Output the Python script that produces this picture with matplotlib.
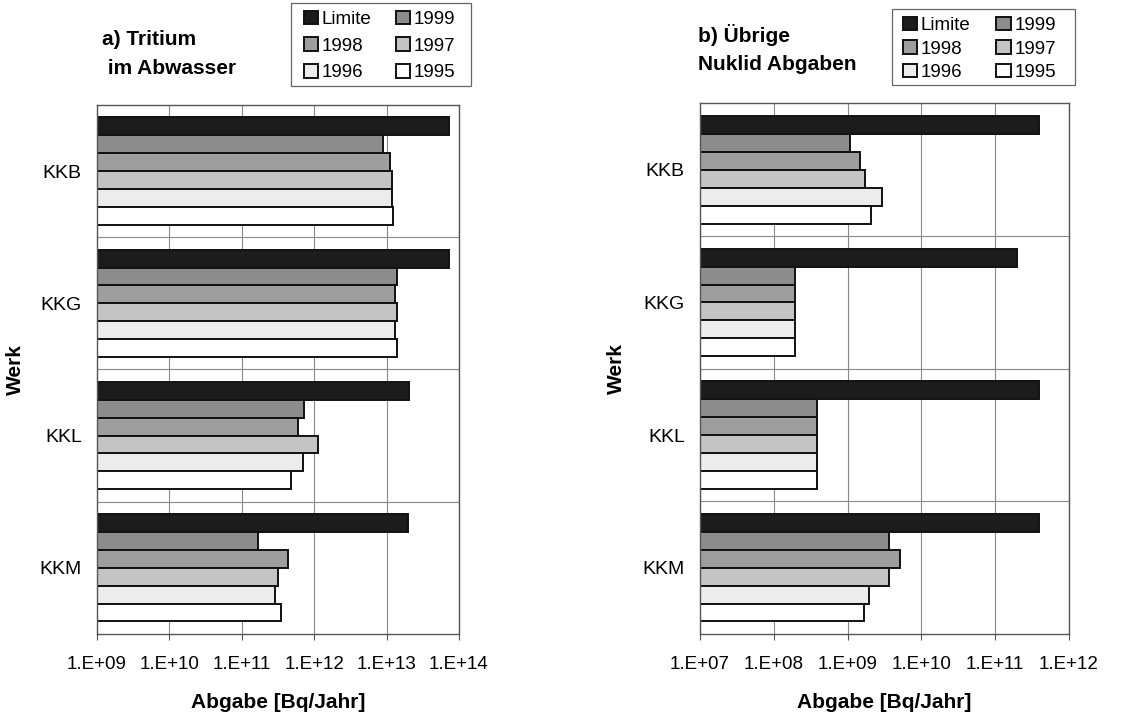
import numpy as np
import matplotlib
matplotlib.use("Agg")
import matplotlib.pyplot as plt
from matplotlib.patches import Patch, Rectangle

plt.rcParams['font.family'] = ['Liberation Sans', 'DejaVu Sans']

# Daten
werke = ["KKB", "KKG", "KKL", "KKM"]
serien = ["Limite", "1999", "1998", "1997", "1996", "1995"]
farben = ["#1c1c1c", "#8c8c8c", "#9e9e9e", "#c4c4c4", "#ececec", "#ffffff"]

# a) Tritium im Abwasser [Bq/Jahr]
tritium = {
    "Limite": [7.2e13, 7.2e13, 2.05e13, 2.0e13],
    "1999":   [8.8e12, 1.4e13, 7.2e11, 1.7e11],
    "1998":   [1.1e13, 1.32e13, 5.9e11, 4.4e11],
    "1997":   [1.2e13, 1.4e13, 1.13e12, 3.2e11],
    "1996":   [1.18e13, 1.3e13, 7.1e11, 2.9e11],
    "1995":   [1.23e13, 1.38e13, 4.8e11, 3.5e11],
}

# b) Übrige Nuklid Abgaben [Bq/Jahr]
uebrige = {
    "Limite": [4.0e11, 1.97e11, 4.0e11, 4.0e11],
    "1999":   [1.08e9, 1.94e8, 3.8e8, 3.6e9],
    "1998":   [1.48e9, 1.94e8, 3.8e8, 5.2e9],
    "1997":   [1.73e9, 1.94e8, 3.8e8, 3.6e9],
    "1996":   [2.97e9, 1.92e8, 3.8e8, 1.94e9],
    "1995":   [2.06e9, 1.94e8, 3.8e8, 1.66e9],
}

xtick_a = [1e9, 1e10, 1e11, 1e12, 1e13, 1e14]
xtick_b = [1e7, 1e8, 1e9, 1e10, 1e11, 1e12]

W, H = 1131, 716


def fmt(v):
    return "1.E+%02d" % int(round(np.log10(v)))


def panel(ax, daten, xticks):
    xmin = xticks[0]
    n = len(serien)
    h = 0.81 / n
    for k, s in enumerate(serien):
        for i, w in enumerate(werke):
            mitte = i + 0.5
            y = mitte - 0.405 + h * (k + 0.5)
            ax.barh(y, daten[s][i] - xmin, left=xmin, height=h,
                    color=farben[k], edgecolor="#111111", linewidth=1.4)
    ax.set_xscale("log")
    ax.set_xlim(xticks[0], xticks[-1])
    ax.set_ylim(len(werke), 0)
    ax.set_xticks(xticks)
    ax.set_xticklabels([fmt(v) for v in xticks])
    ax.xaxis.set_minor_locator(matplotlib.ticker.NullLocator())
    ax.set_yticks([i + 0.5 for i in range(len(werke))])
    ax.set_yticklabels(werke)
    ax.tick_params(axis="y", length=0, pad=11, labelsize=14)
    ax.tick_params(axis="x", length=4, pad=12, labelsize=13.5, color="#555555")
    ax.set_axisbelow(True)
    ax.grid(axis="x", color="#888888", linewidth=0.8)
    for b in range(1, len(werke)):
        ax.axhline(b, color="#888888", linewidth=0.8, zorder=0)
    for sp in ax.spines.values():
        sp.set_color("#555555")
        sp.set_linewidth(1.0)
    ax.set_xlabel("Abgabe [Bq/Jahr]", fontsize=15, fontweight="bold")
    ax.xaxis.set_label_coords(0.5, -0.111)
    ax.set_ylabel("Werk", fontsize=15, fontweight="bold")
    ax.yaxis.set_label_coords(-0.2, 0.5)


fig = plt.figure(figsize=(W / 100, H / 100), dpi=100)
ax1 = fig.add_axes([0.0858, 0.1145, 0.320, 0.739])
ax2 = fig.add_axes([0.619, 0.1145, 0.326, 0.741])

panel(ax1, tritium, xtick_a)
panel(ax2, uebrige, xtick_b)

fig.text(102 / W, 1 - 54 / H, "a) Tritium\n im Abwasser", fontsize=15,
         fontweight="bold", ha="left", va="center", linespacing=1.65)
fig.text(698 / W, 1 - 49 / H, "b) Übrige\nNuklid Abgaben", fontsize=15,
         fontweight="bold", ha="left", va="center", linespacing=1.6)

# Legende: zwei Spalten, spaltenweise gefüllt, Rahmen separat
handles = [Patch(facecolor=farben[k], edgecolor="#111111", linewidth=1.4,
                 label=serien[k]) for k in range(len(serien))]
order = [0, 2, 4, 1, 3, 5]
legs = [((304, 10.5), 0.5, 1.28, (291, 3, 471, 86)),
        ((903, 16.5), 0.33, 1.38, (892, 9, 1075, 85))]
for anker, lsp, csp, box in legs:
    fig.legend([handles[o] for o in order], [serien[o] for o in order],
               ncol=2, loc="upper left",
               bbox_to_anchor=(anker[0] / W, 1 - anker[1] / H), fontsize=13.5,
               frameon=False, handlelength=0.75, handleheight=0.75,
               handletextpad=0.2, columnspacing=csp, labelspacing=lsp,
               borderpad=0.0, borderaxespad=0.0)
    x0, y0, x1, y1 = box
    fig.add_artist(Rectangle((x0 / W, 1 - y1 / H), (x1 - x0) / W,
                             (y1 - y0) / H, transform=fig.transFigure,
                             fill=False, edgecolor="#666666", linewidth=0.9))

fig.savefig("out.png", dpi=100)
